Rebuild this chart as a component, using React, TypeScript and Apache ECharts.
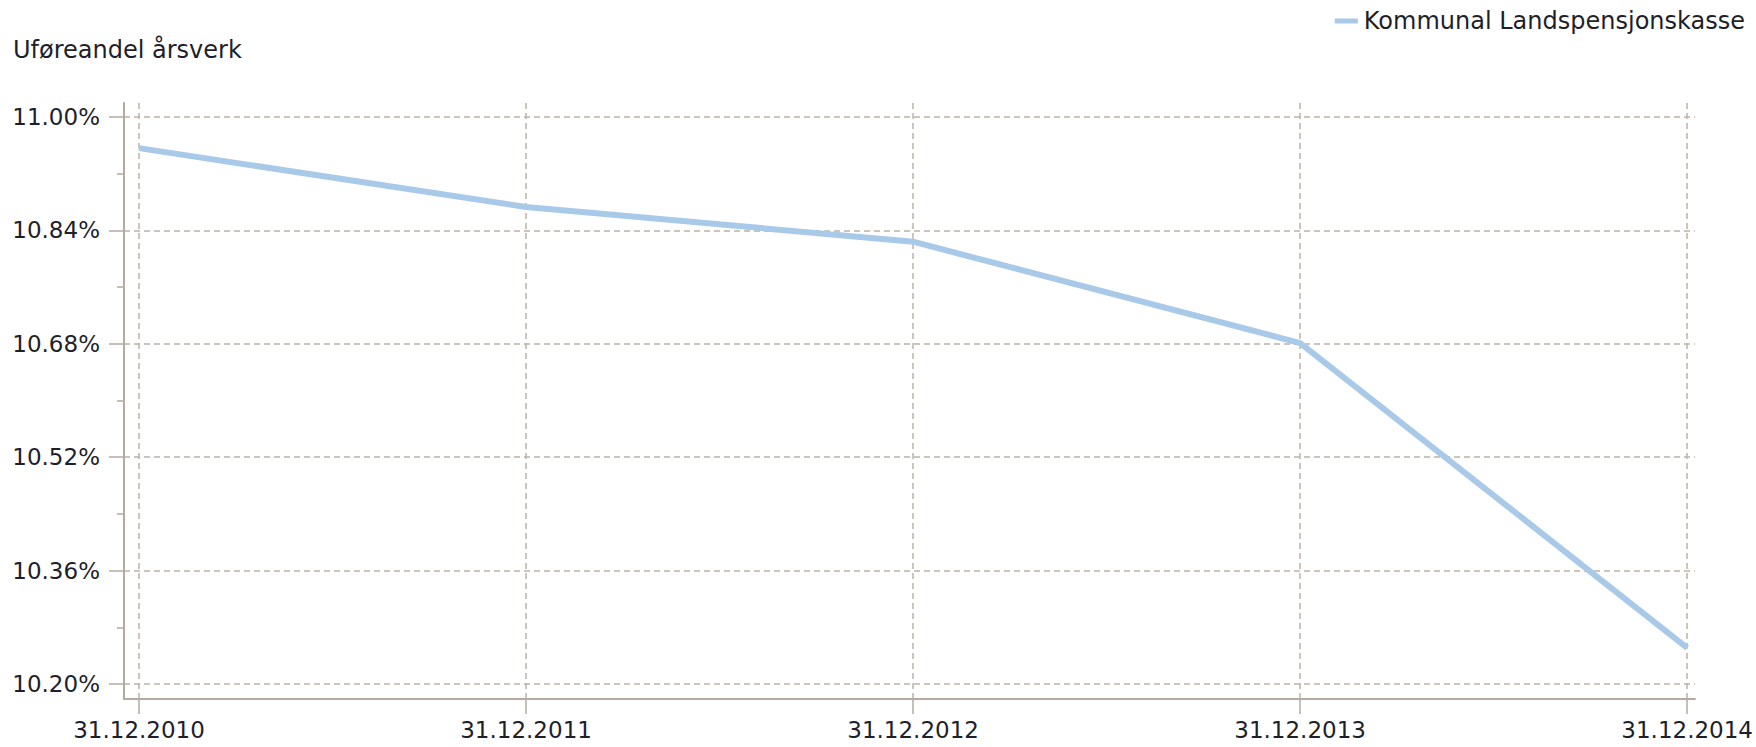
import React, { useEffect, useRef } from "react";
import * as echarts from "echarts";

const titleText = "Uføreandel årsverk";
const seriesName = "Kommunal Landspensjonskasse";
const categories = ["31.12.2010", "31.12.2011", "31.12.2012", "31.12.2013", "31.12.2014"];
const values = [10.956, 10.873, 10.824, 10.681, 10.251];
const yTicks = [10.2, 10.36, 10.52, 10.68, 10.84, 11.0];
const yMinorTicks = [10.28, 10.44, 10.6, 10.76, 10.92];
const xTicks = [0, 1, 2, 3, 4];

const FONT = "DejaVu Sans";
const TEXT = "#1f1f2a";
const AXIS = "#b3aaa1";
const GRID = "#bdb1a4";

export default function App() {
  const ref = useRef<HTMLDivElement>(null);
  useEffect(() => {
    document.body.style.margin = "0";
    const chart = echarts.init(ref.current!, undefined, { renderer: "svg" });
    const option = {
      animation: false,
      backgroundColor: "#ffffff",
      textStyle: { fontFamily: FONT },
      title: {
        text: titleText,
        left: 13,
        top: 38,
        padding: 0,
        textStyle: { fontFamily: FONT, fontSize: 24, fontWeight: "normal", color: TEXT },
      },
      legend: {
        right: 11,
        top: 9,
        padding: 0,
        icon: "rect",
        itemWidth: 23,
        itemHeight: 5,
        itemGap: 8,
        textStyle: { fontFamily: FONT, fontSize: 24, color: TEXT, padding: [0, 0, 0, 1] },
        data: [seriesName],
      },
      grid: { left: 124, right: 61, top: 103, bottom: 48, containLabel: false },
      xAxis: {
        type: "value",
        min: -0.0388,
        max: 4.02,
        axisLine: { show: true, onZero: false, lineStyle: { color: AXIS, width: 2 } },
        axisTick: { show: true, customValues: xTicks, length: 15, lineStyle: { color: AXIS, width: 1.5 } },
        axisLabel: {
          customValues: xTicks,
          formatter: (v: number) => categories[Math.round(v)] ?? "",
          fontFamily: FONT,
          fontSize: 23,
          color: TEXT,
          margin: 19,
        },
        splitLine: { show: true, lineStyle: { color: GRID, width: 1.5, type: [6, 4] } },
      },
      yAxis: [
        {
          type: "value",
          min: 10.1788,
          max: 11.0197,
          axisLine: { show: true, onZero: false, lineStyle: { color: AXIS, width: 2 } },
          axisTick: { show: true, customValues: yTicks, length: 15, lineStyle: { color: AXIS, width: 1.5 } },
          axisLabel: {
            customValues: yTicks,
            formatter: (v: number) => v.toFixed(2) + "%",
            fontFamily: FONT,
            fontSize: 23,
            color: TEXT,
            margin: 24,
          },
          splitLine: { show: true, lineStyle: { color: GRID, width: 1.5, type: [6, 4] } },
        },
        {
          type: "value",
          position: "left",
          min: 10.1788,
          max: 11.0197,
          axisLine: { show: false, onZero: false },
          axisTick: { show: true, customValues: yMinorTicks, length: 7, lineStyle: { color: AXIS, width: 1.5 } },
          axisLabel: { show: false },
          splitLine: { show: false },
        },
      ],
      series: [
        {
          name: seriesName,
          type: "line",
          xAxisIndex: 0,
          yAxisIndex: 0,
          data: values.map((v, i) => [i, v]),
          showSymbol: false,
          symbol: "none",
          lineStyle: { color: "#a8c9e8", width: 6 },
          itemStyle: { color: "#a8c9e8" },
        },
      ],
    };
    chart.setOption(option);
    return () => chart.dispose();
  }, []);
  return <div ref={ref} style={{ width: 1756, height: 747 }} />;
}
